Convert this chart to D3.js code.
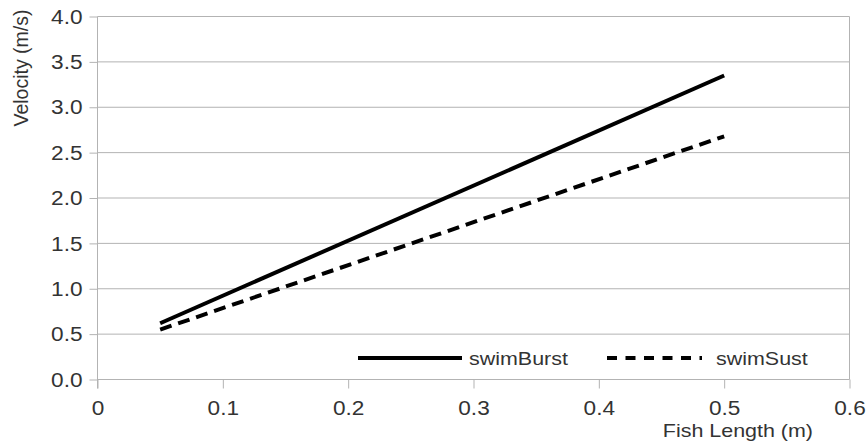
<!DOCTYPE html>
<html>
<head>
<meta charset="utf-8">
<script src="https://cdn.jsdelivr.net/npm/d3@7"></script>
<style>
  html, body { margin: 0; padding: 0; background: #fff; }
  svg { display: block; font-family: "Liberation Sans", Arial, sans-serif; }
</style>
</head>
<body>
<svg id="chart" width="867" height="445"></svg>
<script>
// Swimming velocity vs. fish length
const lengths = [0.05, 0.5];
const swimBurst = [0.62, 3.35];
const swimSust = [0.55, 2.68];
const xTicks = [0, 0.1, 0.2, 0.3, 0.4, 0.5, 0.6];
const xTickLabels = ["0", "0.1", "0.2", "0.3", "0.4", "0.5", "0.6"];
const yTicks = [0, 0.5, 1, 1.5, 2, 2.5, 3, 3.5, 4];
const seriesNames = ["swimBurst", "swimSust"];

const svg = d3.select("#chart");
const margin = { left: 97.5, right: 18, top: 16, bottom: 66 };
const W = 867, H = 445;
const FS = 19.5;      // label font size
const SX = 1.16;      // horizontal glyph widening

const x = d3.scaleLinear().domain([0, 0.6]).range([margin.left, W - margin.right + 0.5]);
const y = d3.scaleLinear().domain([0, 4]).range([H - margin.bottom + 0.5, margin.top + 0.5]);

const grid = "#b3b3b3";
const textCol = "#333";

// horizontal gridlines
svg.append("g").selectAll("line").data(yTicks).join("line")
  .attr("x1", x(0)).attr("x2", x(0.6))
  .attr("y1", d => y(d)).attr("y2", d => y(d))
  .attr("stroke", grid).attr("stroke-width", 1);

// right frame edge
svg.append("line")
  .attr("x1", x(0.6)).attr("x2", x(0.6))
  .attr("y1", y(4)).attr("y2", y(0))
  .attr("stroke", grid);

// y axis
const yAxis = svg.append("g").attr("transform", `translate(${x(0)},0)`)
  .call(d3.axisLeft(y).tickValues(yTicks).tickFormat(d3.format(".1f")).tickSize(8).tickPadding(0));
yAxis.select(".domain").remove();
yAxis.append("line").attr("x1", 0).attr("x2", 0).attr("y1", y(4)).attr("y2", y(0) + 9).attr("stroke", grid);
yAxis.selectAll(".tick line").attr("stroke", grid);
yAxis.selectAll(".tick text")
  .attr("x", -15 / SX).attr("dy", "0.34em")
  .attr("transform", `scale(${SX},1)`)
  .attr("fill", textCol).style("font-size", FS + "px")
  .style("font-family", "Liberation Sans, Arial, sans-serif");

// x axis
const xAxis = svg.append("g").attr("transform", `translate(0,${y(0)})`)
  .call(d3.axisBottom(x).tickValues(xTicks).tickFormat((d, i) => xTickLabels[i]).tickSize(9).tickPadding(0));
xAxis.select(".domain").remove();
xAxis.selectAll(".tick line").attr("stroke", grid);
xAxis.selectAll(".tick text")
  .attr("y", 36).attr("dy", null)
  .attr("transform", `scale(${SX},1)`)
  .attr("fill", textCol).style("font-size", FS + "px")
  .style("font-family", "Liberation Sans, Arial, sans-serif");

// axis titles
svg.append("text")
  .attr("transform", `translate(813,437) scale(${SX},1)`).attr("text-anchor", "end")
  .attr("fill", textCol).style("font-size", "18.5px")
  .text("Fish Length (m)");
svg.append("text")
  .attr("transform", `translate(28,68) rotate(-90)`).attr("text-anchor", "middle")
  .attr("fill", textCol).style("font-size", "19.5px")
  .text("Velocity (m/s)");

// series lines
const line = d3.line().x(d => x(d[0])).y(d => y(d[1]));
const burstPts = lengths.map((l, i) => [l, swimBurst[i]]);
const sustPts = lengths.map((l, i) => [l, swimSust[i]]);

svg.append("path").datum(burstPts).attr("d", line)
  .attr("fill", "none").attr("stroke", "#000").attr("stroke-width", 4);
svg.append("path").datum(sustPts).attr("d", line)
  .attr("fill", "none").attr("stroke", "#000").attr("stroke-width", 4)
  .attr("stroke-dasharray", "12,7");

// legend
const lg = svg.append("g");
lg.append("line").attr("x1", 358).attr("x2", 462).attr("y1", 358).attr("y2", 358)
  .attr("stroke", "#000").attr("stroke-width", 4);
lg.append("text").attr("transform", `translate(469,365) scale(${SX},1)`)
  .attr("fill", textCol).style("font-size", "18.5px").text(seriesNames[0]);
lg.append("line").attr("x1", 607).attr("x2", 702).attr("y1", 358).attr("y2", 358)
  .attr("stroke", "#000").attr("stroke-width", 4).attr("stroke-dasharray", "10,8.5");
lg.append("text").attr("transform", `translate(716,365) scale(${SX},1)`)
  .attr("fill", textCol).style("font-size", "18.5px").text(seriesNames[1]);
</script>
</body>
</html>
